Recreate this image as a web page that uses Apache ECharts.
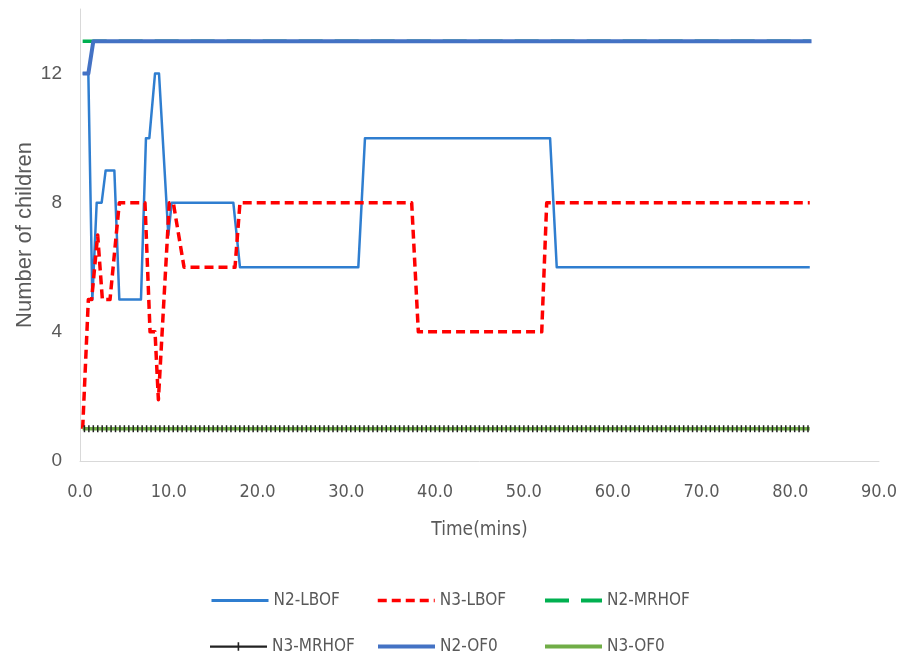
<!DOCTYPE html>
<html>
<head>
<meta charset="utf-8">
<script src="https://cdn.jsdelivr.net/npm/echarts@6/dist/echarts.min.js"></script>
<style>html,body{margin:0;padding:0;background:#fff}#c{width:903px;height:657px}</style>
</head>
<body>
<div id="c"></div>
<script>
// ---- data ----
var seriesNames = ['N2-LBOF', 'N3-LBOF', 'N2-MRHOF', 'N3-MRHOF', 'N2-OF0', 'N3-OF0'];
var xTicks = [0, 10, 20, 30, 40, 50, 60, 70, 80, 90];
var yTicks = [0, 4, 8, 12];

var n2LbofTime = [0.3, 0.94, 1.39, 1.88, 2.44, 2.89, 3.87, 4.43, 6.87, 7.43, 7.81, 8.45, 8.9, 9.95, 10.33, 17.27, 18.02, 31.35, 32.1, 52.95, 53.7, 82.2];
var n2LbofVal  = [12, 12, 5, 8, 8, 9, 9, 5, 5, 10, 10, 12, 12, 7, 8, 8, 6, 6, 10, 10, 6, 6];

var n3LbofTime = [0.3, 0.94, 1.31, 1.99, 2.52, 3.38, 4.43, 7.32, 7.89, 8.45, 8.83, 10.06, 10.51, 11.72, 17.46, 18.02, 37.36, 38.11, 52.01, 52.57, 82.2];
var n3LbofVal  = [1, 5, 5, 7, 5, 5, 8, 8, 4, 4, 1.9, 8, 8, 6, 6, 8, 8, 4, 4, 8, 8];

var n2MrhofTime = [0.3, 82.3];
var n2MrhofVal  = [13, 13];

var n3MrhofTime = [0.5,1,1.5,2,2.5,3,3.5,4,4.5,5,5.5,6,6.5,7,7.5,8,8.5,9,9.5,10,10.5,11,11.5,12,12.5,13,13.5,14,14.5,15,15.5,16,16.5,17,17.5,18,18.5,19,19.5,20,20.5,21,21.5,22,22.5,23,23.5,24,24.5,25,25.5,26,26.5,27,27.5,28,28.5,29,29.5,30,30.5,31,31.5,32,32.5,33,33.5,34,34.5,35,35.5,36,36.5,37,37.5,38,38.5,39,39.5,40,40.5,41,41.5,42,42.5,43,43.5,44,44.5,45,45.5,46,46.5,47,47.5,48,48.5,49,49.5,50,50.5,51,51.5,52,52.5,53,53.5,54,54.5,55,55.5,56,56.5,57,57.5,58,58.5,59,59.5,60,60.5,61,61.5,62,62.5,63,63.5,64,64.5,65,65.5,66,66.5,67,67.5,68,68.5,69,69.5,70,70.5,71,71.5,72,72.5,73,73.5,74,74.5,75,75.5,76,76.5,77,77.5,78,78.5,79,79.5,80,80.5,81,81.5,82];
var n3MrhofValue = 1;

var n2Of0Time = [0.3, 0.94, 1.5, 82.4];
var n2Of0Val  = [12, 12, 13, 13];

var n3Of0Time = [0.3, 82.2];
var n3Of0Val  = [1, 1];

// ---- build ----
function pairs(t, v) { return t.map(function (x, i) { return [x, v[i]]; }); }
var gray = '#595959';
var condFont = "'DejaVu Sans Condensed', 'Liberation Sans', sans-serif";
var chart = echarts.init(document.getElementById('c'), null, { renderer: 'canvas' });

function leg(name, left, top, lw, icon) {
  var d = { name: name };
  if (icon) d.icon = icon;
  return {
    data: [d], left: left, top: top, padding: 0, itemWidth: 57, itemHeight: 14, itemGap: 0,
    itemStyle: { opacity: icon ? 1 : 0 },
    lineStyle: { width: lw },
    textStyle: { color: gray, fontFamily: condFont, fontSize: 17 }
  };
}

var option = {
  animation: false,
  backgroundColor: '#fff',
  grid: { left: 80, right: 24, top: 9, bottom: 196, containLabel: false },
  legend: [
    leg(seriesNames[0], 210, 592, 3),
    leg(seriesNames[1], 376, 592, 3.5),
    leg(seriesNames[2], 543, 592, 4),
    leg(seriesNames[3], 210, 638, 3, 'path://M0,6.2 L57,6.2 L57,8.4 L0,8.4 Z M27.6,3 L29.2,3 L29.2,11.5 L27.6,11.5 Z'),
    leg(seriesNames[4], 376, 638, 4),
    leg(seriesNames[5], 543, 638, 4)
  ],
  xAxis: {
    type: 'value', min: xTicks[0], max: xTicks[xTicks.length - 1], interval: 10,
    name: 'Time(mins)', nameLocation: 'middle', nameGap: 60, nameMoveOverlap: false,
    nameTextStyle: { color: gray, fontFamily: condFont, fontSize: 19 },
    axisLine: { show: true, lineStyle: { color: '#D9D9D9', width: 1 } },
    axisTick: { show: false },
    splitLine: { show: false },
    axisLabel: { color: gray, fontFamily: condFont, fontSize: 18, margin: 22,
      formatter: function (v) { return v.toFixed(1); } }
  },
  yAxis: {
    type: 'value', min: 0, max: 14, interval: 4,
    name: 'Number of children', nameLocation: 'middle', nameGap: 44, nameMoveOverlap: false,
    nameTextStyle: { color: gray, fontFamily: 'Liberation Sans', fontSize: 22 },
    axisLine: { show: true, lineStyle: { color: '#D9D9D9', width: 1 } },
    axisTick: { show: false },
    splitLine: { show: false },
    axisLabel: { color: gray, fontFamily: 'Liberation Sans', fontSize: 19, margin: 18,
      formatter: function (v) { return yTicks.indexOf(v) >= 0 ? String(v) : ''; } }
  },
  series: [
    { name: seriesNames[0], type: 'line', symbol: 'none', data: pairs(n2LbofTime, n2LbofVal),
      itemStyle: { color: '#2F7ED0' }, lineStyle: { color: '#2F7ED0', width: 2.5, join: 'round' } },
    { name: seriesNames[1], type: 'line', symbol: 'none', data: pairs(n3LbofTime, n3LbofVal),
      itemStyle: { color: '#FF0000' }, lineStyle: { color: '#FF0000', width: 3.5, type: [9, 5], join: 'round' } },
    { name: seriesNames[2], type: 'line', symbol: 'none', data: pairs(n2MrhofTime, n2MrhofVal),
      itemStyle: { color: '#00B050' }, lineStyle: { color: '#00B050', width: 3.5, type: [24, 12] } },
    { name: seriesNames[3], type: 'line', symbol: 'rect', symbolSize: [1.5, 7], showAllSymbol: true,
      data: n3MrhofTime.map(function (t) { return [t, n3MrhofValue]; }),
      itemStyle: { color: '#222' }, lineStyle: { color: '#000', width: 2 } },
    { name: seriesNames[4], type: 'line', symbol: 'none', data: pairs(n2Of0Time, n2Of0Val),
      itemStyle: { color: '#4472C4' }, lineStyle: { color: '#4472C4', width: 4, join: 'round' } },
    { name: seriesNames[5], type: 'line', symbol: 'none', data: pairs(n3Of0Time, n3Of0Val),
      itemStyle: { color: '#70AD47' }, lineStyle: { color: '#70AD47', width: 3.5 } }
  ]
};
chart.setOption(option);
</script>
</body>
</html>
